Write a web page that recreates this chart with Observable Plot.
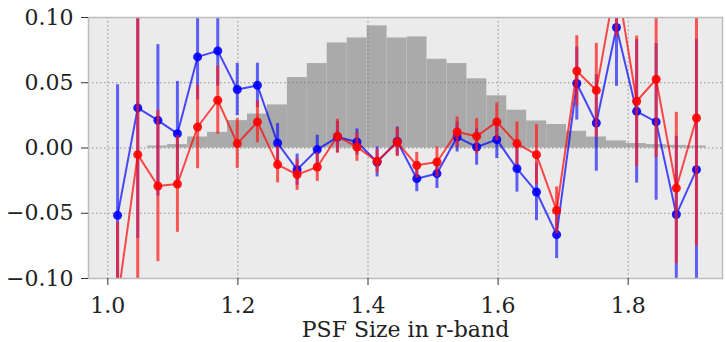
<!DOCTYPE html>
<html><head><meta charset="utf-8">
<script src="https://cdn.jsdelivr.net/npm/d3@7"></script>
<script src="https://cdn.jsdelivr.net/npm/@observablehq/plot@0.6"></script>
<style>html,body{margin:0;padding:0;background:#fff;overflow:hidden;}</style>
</head><body><div id="chart"></div>
<script>
// bin centres (PSF size) of the 30 bins
const psf = [1.015, 1.046, 1.077, 1.107, 1.138, 1.169, 1.199, 1.230, 1.261, 1.291,
             1.322, 1.353, 1.383, 1.414, 1.445, 1.475, 1.506, 1.537, 1.567, 1.598,
             1.629, 1.659, 1.690, 1.721, 1.751, 1.782, 1.813, 1.843, 1.874, 1.905];
// histogram bin edges
const binEdges = [1.0, 1.0307, 1.0613, 1.092, 1.1227, 1.1533, 1.184, 1.2147, 1.2453, 1.276,
                  1.3067, 1.3373, 1.368, 1.3987, 1.4293, 1.46, 1.4907, 1.5213, 1.552, 1.5827,
                  1.6133, 1.644, 1.6747, 1.7053, 1.736, 1.7667, 1.7973, 1.828, 1.8587, 1.8893, 1.92];
const histHeight = [0, 0, 0.0015, 0.0026, 0.0084, 0.012, 0.021, 0.026, 0.033, 0.054,
                    0.0647, 0.0805, 0.0843, 0.0936, 0.0843, 0.0851, 0.068, 0.0647, 0.053, 0.040,
                    0.029, 0.0207, 0.018, 0.0128, 0.0084, 0.0054, 0.0034, 0.0026, 0.002, 0.0015];
// blue series
const blueVal = [-0.0516, 0.0307, 0.0212, 0.0110, 0.0698, 0.0744, 0.0448, 0.0480, 0.0038, -0.0166,
                 -0.0012, 0.0084, 0.0046, -0.0107, 0.0051, -0.0235, -0.0196, 0.0084, 0.0008, 0.0064,
                 -0.0158, -0.0337, -0.0664, 0.0494, 0.0192, 0.0923, 0.0281, 0.0200, -0.0510, -0.0166];
const blueErr = [0.100, 0.100, 0.058, 0.040, 0.033, 0.027, 0.020, 0.017, 0.015, 0.012,
                 0.011, 0.012, 0.010, 0.0115, 0.011, 0.010, 0.0115, 0.0115, 0.014, 0.0145,
                 0.018, 0.022, 0.0184, 0.028, 0.037, 0.045, 0.055, 0.060, 0.060, 0.100];
// red series
const redVal = [-0.117, -0.0051, -0.0291, -0.0276, 0.0161, 0.0366, 0.0034, 0.0200, -0.0127, -0.0204,
                -0.0146, 0.0090, 0.0008, -0.0102, 0.0044, -0.0133, -0.0107, 0.0123, 0.0090, 0.0200,
                0.0034, -0.0051, -0.0478, 0.0590, 0.0442, 0.130, 0.0358, 0.0527, -0.0307, 0.0230];
const redErr = [0.060, 0.120, 0.058, 0.037, 0.032, 0.026, 0.019, 0.016, 0.014, 0.012,
                0.011, 0.013, 0.011, 0.009, 0.011, 0.010, 0.0115, 0.0115, 0.0135, 0.0145,
                0.0166, 0.023, 0.018, 0.027, 0.036, 0.045, 0.050, 0.060, 0.058, 0.098];
const xTicks = [1.0, 1.2, 1.4, 1.6, 1.8];
const xTickLabels = ["1.0", "1.2", "1.4", "1.6", "1.8"];
const yTicks = [-0.10, -0.05, 0.00, 0.05, 0.10];
const yTickLabels = ["\u22120.10", "\u22120.05", "0.00", "0.05", "0.10"];
const xLabel = "PSF Size in r-band";

const rows = psf.map((x, i) => ({x, b: blueVal[i], be: blueErr[i], r: redVal[i], re: redErr[i]}));
const hist = histHeight.map((h, i) => ({x1: binEdges[i], x2: binEdges[i + 1], h}));

const chart = Plot.plot({
  width: 726, height: 342,
  marginLeft: 88, marginRight: 4, marginTop: 17, marginBottom: 64,
  style: {fontFamily: "DejaVu Serif", fontSize: "22px", background: "white", color: "#222"},
  x: {domain: [0.9703, 1.945]},
  y: {domain: [-0.1, 0.1]},
  marks: [
    Plot.frame({fill: "#ebebeb", stroke: null}),
    Plot.rectY(hist, {x1: "x1", x2: "x2", y1: 0, y2: "h", fill: "#aaaaaa", clip: true}),
    Plot.gridX(xTicks, {stroke: "#777", strokeOpacity: 0.8, strokeDasharray: "1.5,2.5", strokeWidth: 1}),
    Plot.gridY(yTicks, {stroke: "#777", strokeOpacity: 0.8, strokeDasharray: "1.5,2.5", strokeWidth: 1}),
    Plot.ruleX(rows, {x: "x", y1: d => d.b - d.be, y2: d => d.b + d.be, stroke: "#0000ff", strokeOpacity: 0.6, strokeWidth: 3, clip: true}),
    Plot.line(rows, {x: "x", y: "b", stroke: "#0000ff", strokeOpacity: 0.7, strokeWidth: 2, clip: true}),
    Plot.dot(rows, {x: "x", y: "b", r: 4.5, fill: "#0000ff", fillOpacity: 0.9, clip: true}),
    Plot.ruleX(rows, {x: "x", y1: d => d.r - d.re, y2: d => d.r + d.re, stroke: "#ff1a1a", strokeOpacity: 0.72, strokeWidth: 3, clip: true}),
    Plot.line(rows, {x: "x", y: "r", stroke: "#ff0000", strokeOpacity: 0.7, strokeWidth: 2, clip: true}),
    Plot.dot(rows, {x: "x", y: "r", r: 4.5, fill: "#ff0000", fillOpacity: 0.9, clip: true}),
    Plot.frame({stroke: "#bdbdbd", strokeWidth: 1.5}),
    Plot.axisX(xTicks, {tickFormat: d => xTickLabels[xTicks.indexOf(d)], tickSize: 7, tickPadding: 12, stroke: "#333", label: null}),
    Plot.axisY(yTicks, {tickFormat: d => yTickLabels[yTicks.indexOf(d)], tickSize: 7, tickPadding: 8, stroke: "#333", label: null}),
    Plot.text([xLabel], {frameAnchor: "bottom", dy: 51, lineAnchor: "middle", fontSize: 22, fill: "#222"})
  ]
});
document.getElementById("chart").appendChild(chart);
</script>
</body></html>
